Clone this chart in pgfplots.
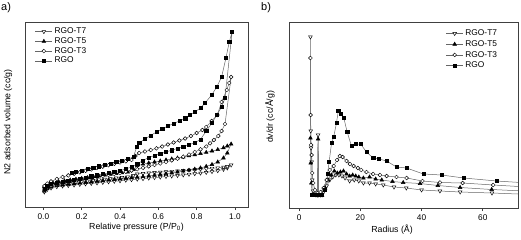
\documentclass[border=0pt]{standalone}
\usepackage{fontspec}
\setmainfont{Liberation Sans}
\usepackage{pgfplots}
\pgfplotsset{compat=1.18}
\usetikzlibrary{calc}
\pgfplotsset{
  myax/.style={
    scale only axis,
    axis line style={black!75, line width=0.9pt},
    ytick=\empty,
    xtick pos=bottom,
    tick align=outside,
    major tick length=3bp,
    tick style={black!75, line width=0.7pt},
    /pgf/number format/assume math mode=true,
    tick label style={font=\fontsize{8.3}{10}\selectfont},
    label style={font=\fontsize{8.8}{10.5}\selectfont},
    legend style={draw=none, fill=none, font=\fontsize{8.4}{10}\selectfont, row sep=-1.6bp, legend cell align=left, inner sep=1bp},
  },
  ln/.style={color=black!60, line width=0.5pt},
  sq/.style={ln, mark=square*, mark size=1.6, mark options={draw=black, fill=black, solid}},
  tr/.style={ln, mark=triangle*, mark size=2.1, mark options={draw=black, fill=black, solid}},
  ci/.style={ln, mark=*, mark size=1.9, mark options={draw=black, fill=white, line width=0.45pt, solid}},
  dt/.style={ln, mark=triangle*, mark size=2.1, mark options={draw=black, fill=white, rotate=180, line width=0.45pt, solid}},
}
\begin{document}
\begin{tikzpicture}
\path[use as bounding box] (0bp,0bp) rectangle (521bp,-240bp);
\node[anchor=north west, inner sep=0pt, font=\fontsize{11}{13}\selectfont] at (1bp,-2bp) {a)};
\node[anchor=north west, inner sep=0pt, font=\fontsize{11}{13}\selectfont] at (261bp,-2bp) {b)};
% ---------------- panel a
\begin{axis}[myax, at={(25bp,-207bp)}, anchor=south west, width=223bp, height=185bp,
  xmin=-0.096, xmax=1.068, ymin=0, ymax=185,
  xtick={0,0.2,0.4,0.6,0.8,1.0},
  xticklabel style={/pgf/number format/.cd, fixed, fixed zerofill, precision=1},
  xlabel={Relative pressure (P/P\textsubscript{0})},
  xlabel style={at={($(rel axis cs:0.5,0)+(0bp,-20bp)$)}, anchor=center},
  ylabel={N2 adsorbed volume (cc/g)},
  ylabel style={at={($(rel axis cs:0,0.46)+(-17bp,0bp)$)}, anchor=center},
  legend style={at={(rel axis cs:0.04,0.985)}, anchor=north west},
]
\addplot[dt] coordinates {
(0.005,15)(0.02,17.5)(0.04,19)(0.07,20.3)(0.10,21)(0.13,21.5)(0.16,22)(0.19,22.6)(0.22,23.1)(0.25,23.6)(0.28,24.1)(0.31,24.6)(0.34,25.2)(0.37,25.7)(0.40,26.2)(0.43,26.8)(0.46,27.3)(0.49,27.8)(0.52,28.3)(0.55,28.9)(0.58,29.4)(0.61,29.9)(0.64,30.5)(0.67,31.0)(0.70,31.5)(0.73,32.1)(0.76,32.7)(0.79,33.3)(0.82,33.9)(0.85,34.6)(0.88,35.4)(0.91,36.3)(0.94,37.6)(0.96,39)(0.98,42)
(0.96,40.5)(0.94,39.8)(0.91,39.2)(0.88,38.7)(0.85,38.2)(0.82,37.8)(0.79,37.3)(0.76,36.9)(0.73,36.5)(0.70,36.1)(0.67,35.7)(0.64,35.3)(0.61,34.9)(0.58,34.5)(0.55,34.1)(0.52,33.6)(0.49,33.0)(0.47,31.5)(0.44,30.2)(0.41,29.6)(0.38,29.0)(0.35,28.4)(0.32,27.8)(0.29,27.2)(0.26,26.6)(0.23,26.0)(0.20,25.4)(0.17,24.8)(0.14,24.2)(0.11,23.5)(0.08,22.8)(0.05,22)(0.02,20.5)(0.005,19)
};
\addlegendentry{RGO-T7}
\addplot[tr] coordinates {
(0.005,16)(0.02,18.5)(0.04,20)(0.07,21.3)(0.10,22)(0.13,22.6)(0.16,23.2)(0.19,23.8)(0.22,24.4)(0.25,25.0)(0.28,25.6)(0.31,26.2)(0.34,26.8)(0.37,27.4)(0.40,28.0)(0.43,28.6)(0.46,29.2)(0.49,29.8)(0.52,30.4)(0.55,31.1)(0.58,31.8)(0.61,32.5)(0.64,33.3)(0.67,34.1)(0.70,34.9)(0.73,35.8)(0.76,36.8)(0.79,37.9)(0.82,39.1)(0.85,40.6)(0.88,42.5)(0.91,45)(0.94,49)(0.96,54)(0.98,63)
(0.96,61)(0.94,59.2)(0.91,57.4)(0.88,56)(0.85,54.6)(0.82,53.4)(0.79,52.2)(0.76,51.1)(0.73,50)(0.70,49)(0.67,48)(0.64,47)(0.61,46)(0.58,45)(0.55,44)(0.52,42.8)(0.49,41.3)(0.47,37.5)(0.44,35)(0.41,34.2)(0.38,33.4)(0.35,32.6)(0.32,31.8)(0.29,31)(0.26,30.2)(0.23,29.4)(0.20,28.6)(0.17,27.8)(0.14,27)(0.11,26.2)(0.08,25.2)(0.05,24)(0.02,22)(0.005,20)
};
\addlegendentry{RGO-T5}
\addplot[ci] coordinates {
(0.005,17)(0.02,20)(0.04,21.5)(0.07,23)(0.10,24)(0.13,25)(0.16,26)(0.19,27)(0.22,28)(0.25,29)(0.28,30)(0.31,31)(0.34,32)(0.37,33)(0.40,34)(0.43,35.2)(0.46,36.4)(0.49,37.8)(0.52,39.2)(0.55,40.6)(0.58,42)(0.61,43.5)(0.64,45)(0.67,46.6)(0.70,48.3)(0.73,50.2)(0.76,52.5)(0.79,55)(0.82,57.7)(0.85,60.5)(0.87,63.7)(0.89,67)(0.913,71)(0.93,76)(0.948,83)(0.98,130)
(0.97,124)(0.957,117)(0.93,105)(0.908,92)(0.878,86)(0.85,80)(0.83,77)(0.80,74)(0.77,71)(0.74,68.5)(0.71,66.5)(0.68,64.5)(0.65,62.5)(0.62,60.5)(0.59,58.7)(0.56,57)(0.53,55.5)(0.50,54)(0.48,51)(0.46,47)(0.43,45.7)(0.40,44.5)(0.37,43.2)(0.34,41.8)(0.31,40.4)(0.28,39)(0.25,37.6)(0.22,36.2)(0.19,34.7)(0.16,33.2)(0.13,31.6)(0.10,30)(0.07,28)(0.04,25.6)(0.02,23.5)(0.005,21)
};
\addlegendentry{RGO-T3}
\addplot[sq] coordinates {
(0.005,18)(0.02,21)(0.04,23)(0.07,24.5)(0.10,25.6)(0.13,26.6)(0.16,27.6)(0.19,28.6)(0.22,29.6)(0.25,30.7)(0.28,31.8)(0.31,32.9)(0.34,34)(0.37,35.2)(0.40,36.5)(0.43,38)(0.46,40)(0.49,43)(0.52,46.5)(0.55,49.5)(0.58,51.5)(0.61,53.3)(0.64,55)(0.67,56.8)(0.70,58.6)(0.73,60.4)(0.76,62.3)(0.79,64.3)(0.82,67.5)(0.85,76)(0.88,84)(0.905,92)(0.93,100)(0.948,109)(0.985,175)
(0.97,165)(0.953,149)(0.93,130)(0.905,120)(0.878,112)(0.844,104)(0.82,99)(0.79,95)(0.765,92)(0.74,88.7)(0.71,86)(0.68,83.5)(0.65,81)(0.62,78)(0.59,75)(0.56,71.5)(0.53,68)(0.50,64)(0.487,60)(0.47,50)(0.44,48)(0.41,46.5)(0.38,45)(0.35,43.5)(0.32,42)(0.29,40.8)(0.26,39.5)(0.23,38)(0.20,36.5)(0.17,35)(0.15,34)
};
\addlegendentry{RGO}
\end{axis}
% ---------------- panel b
\begin{axis}[myax, at={(289bp,-208bp)}, anchor=south west, width=229bp, height=186bp,
  xmin=-3.3, xmax=71.5, ymin=0, ymax=186,
  xtick={0,20,40,60},
  xlabel={Radius (Å)},
  xlabel style={at={($(rel axis cs:0.45,0)+(0bp,-22bp)$)}, anchor=center},
  ylabel={dv/dr (cc/Å/g)},
  ylabel style={at={($(rel axis cs:0,0.49)+(-19bp,0bp)$)}, anchor=center},
  legend style={at={(rel axis cs:0.68,0.975)}, anchor=north west, row sep=-0.6bp},
]
\addplot[dt] coordinates {
(3.7,171)(3.8,77)(3.9,60)(4.1,46)(4.3,28)(4.6,17)(5.0,14)(5.5,13)(6.0,13)(6.2,73)(6.4,13)(7.0,13)(7.5,13)(8.0,16)(9,22)(10,28)(11,31)(12,33)(13,33)(14,32)(15,30)(16.5,27)(18,28)(19.5,27)(21,25)(23,25)(25,24)(27.5,23)(31,21)(35,20)(40,18)(46,17)(52.6,16)(63,15)(80,13)
};
\addlegendentry{RGO-T7}
\addplot[tr] coordinates {
(3.7,70)(3.8,45)(4.0,25)(4.3,13)(5,13)(6,13)(6.2,69)(6.4,13)(7.5,13)(8.5,20)(9.5,28)(10.5,33)(11.5,37)(12.5,35)(13.5,36)(14.5,37)(15.5,34)(16.5,32)(17.5,33)(18.5,32)(19.5,31)(21,30)(23,31)(25,29)(27,28)(30.5,26.5)(34,25.5)(39.5,24.5)(45.3,22.5)(52.6,20.5)(62.9,18.5)(80,16)
};
\addlegendentry{RGO-T5}
\addplot[ci] coordinates {
(3.7,150)(3.75,93)(3.9,63)(4.1,53)(4.3,35)(4.6,25)(5.2,18)(6,15)(7,16)(8,20)(9,28)(10,38)(11.3,42)(12.4,48)(13.3,52)(14.2,51)(15.5,47)(16.6,44)(17.8,42)(19.2,40)(20.3,38)(22,36)(24.2,34)(26.4,33)(28.6,32)(31.8,31)(35.1,30)(40.3,27)(46,25.5)(53.4,25)(63.4,23)(80,20)
};
\addlegendentry{RGO-T3}
\addplot[sq] coordinates {
(4.2,13)(5.0,13)(6.5,13)(7.5,13)(8.5,18)(9.3,34)(9.8,46)(10.6,65)(11.3,71)(12.2,85)(12.8,97)(13.6,94)(14.6,90)(15.7,76)(17.1,62)(18.5,64)(20.1,64)(22,56)(24.2,50)(26.1,49)(28.6,47)(31.8,41)(35.1,40)(40.6,34)(46.5,33)(53.8,30)(64.5,27)(80,24)
};
\addlegendentry{RGO}
\end{axis}
\end{tikzpicture}
\end{document}
